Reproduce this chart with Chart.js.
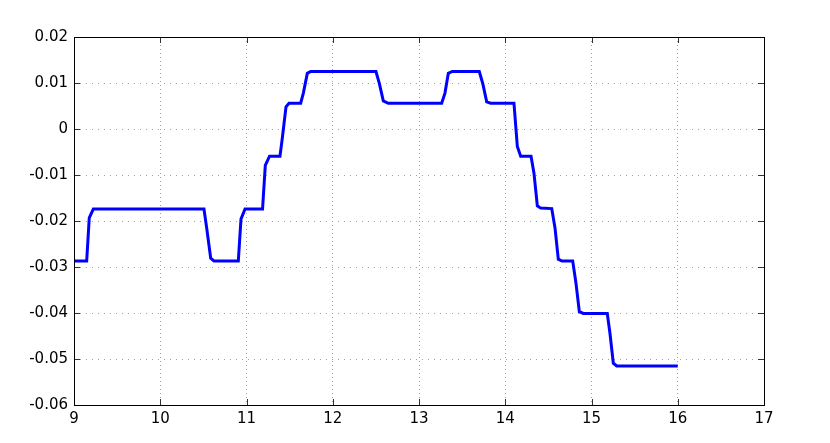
<!DOCTYPE html>
<html>
<head>
<meta charset="utf-8">
<script src="https://cdn.jsdelivr.net/npm/chart.js@4/dist/chart.umd.min.js"></script>
<style>
  html, body { margin: 0; padding: 0; background: #fff; }
  canvas { display: block; }
</style>
</head>
<body>
<canvas id="chart-escalones" width="830" height="443"></canvas>
<script>
/* ═══════════════════════════════════════════════
   Respuesta en escalones — estilo figura MATLAB
═══════════════════════════════════════════════ */

// ── Datos ───────────────────────────────────────────────────
const tiempo = [
  9.00, 9.147, 9.177, 9.224, 10.507, 10.539, 10.585, 10.623, 10.905, 10.936,
  10.983, 11.186, 11.218, 11.267, 11.388, 11.415, 11.458, 11.493, 11.628, 11.659,
  11.705, 11.744, 12.501, 12.540, 12.586, 12.644, 13.263, 13.301, 13.340, 13.386,
  13.699, 13.739, 13.785, 13.831, 14.101, 14.140, 14.179, 14.299, 14.333, 14.372,
  14.411, 14.539, 14.577, 14.615, 14.658, 14.782, 14.820, 14.859, 14.905, 15.183,
  15.214, 15.253, 15.292, 16.00
];

const valor = [
  -0.0287, -0.0287, -0.0193, -0.0174, -0.0174, -0.0216, -0.0281, -0.0287, -0.0287, -0.0196,
  -0.0174, -0.0174, -0.0079, -0.0059, -0.0059, -0.0020, 0.0048, 0.0056, 0.0056, 0.0078,
  0.0121, 0.0125, 0.0125, 0.0099, 0.0061, 0.0056, 0.0056, 0.0078, 0.0121, 0.0125,
  0.0125, 0.0099, 0.0059, 0.0056, 0.0056, -0.0038, -0.0059, -0.0059, -0.0096, -0.0167,
  -0.0172, -0.0173, -0.0215, -0.0283, -0.0287, -0.0287, -0.0335, -0.0397, -0.0401, -0.0401,
  -0.0444, -0.0509, -0.0515, -0.0515
];

// ── Ejes ────────────────────────────────────────────────────
const X_MIN = 9,     X_MAX = 17,   X_PASO = 1;
const Y_MIN = -0.06, Y_MAX = 0.02, Y_PASO = 0.01;

const FUENTE = { family: 'DejaVu Sans', size: 15 };

/** Marco negro y marcas hacia dentro, como en MATLAB */
const marcoMatlab = {
  id: 'marcoMatlab',
  afterDatasetsDraw(chart) {
    const { ctx, chartArea: a, scales } = chart;
    const L = 6; // largo de la marca
    ctx.save();
    ctx.lineWidth = 1;
    ctx.strokeStyle = '#333';
    ctx.beginPath();
    scales.x.ticks.forEach(t => {
      const px = Math.round(scales.x.getPixelForValue(t.value)) + 0.5;
      ctx.moveTo(px, a.bottom); ctx.lineTo(px, a.bottom - L);
      ctx.moveTo(px, a.top);    ctx.lineTo(px, a.top + L);
    });
    scales.y.ticks.forEach(t => {
      const py = Math.round(scales.y.getPixelForValue(t.value)) + 0.5;
      ctx.moveTo(a.left, py);  ctx.lineTo(a.left + L, py);
      ctx.moveTo(a.right, py); ctx.lineTo(a.right - L, py);
    });
    ctx.stroke();

    ctx.strokeStyle = '#000';
    ctx.strokeRect(Math.round(a.left) + 0.5, Math.round(a.top) + 0.5,
                   Math.round(a.right - a.left), Math.round(a.bottom - a.top));
    ctx.restore();
  }
};

const ctxEsc = document.getElementById('chart-escalones').getContext('2d');

const chartEsc = new Chart(ctxEsc, {
  type: 'line',
  data: {
    datasets: [{
      data: tiempo.map((t, i) => ({ x: t, y: valor[i] })),
      borderColor: '#0000FF',
      borderWidth: 3,
      pointRadius: 0,
      tension: 0,
      fill: false,
    }]
  },
  options: {
    responsive: false,
    animation: false,
    layout: { padding: { left: 0, top: 37, right: 66, bottom: 0 } },
    plugins: {
      legend: { display: false },
      tooltip: { enabled: false }
    },
    scales: {
      x: {
        type: 'linear',
        min: X_MIN, max: X_MAX,
        afterFit: s => { s.height = 38; },
        ticks: { stepSize: X_PASO, color: '#000', font: FUENTE, padding: 5 },
        grid: { color: '#a0a0a0', drawTicks: false },
        border: { display: false, dash: [1, 3] }
      },
      y: {
        min: Y_MIN, max: Y_MAX,
        afterFit: s => { s.width = 74; },
        ticks: {
          stepSize: Y_PASO, color: '#000', font: FUENTE, padding: 6,
          callback: v => String(Number(v.toFixed(2)))
        },
        grid: { color: '#a0a0a0', drawTicks: false },
        border: { display: false, dash: [1, 5] }
      }
    }
  },
  plugins: [marcoMatlab]
});
</script>
</body>
</html>
